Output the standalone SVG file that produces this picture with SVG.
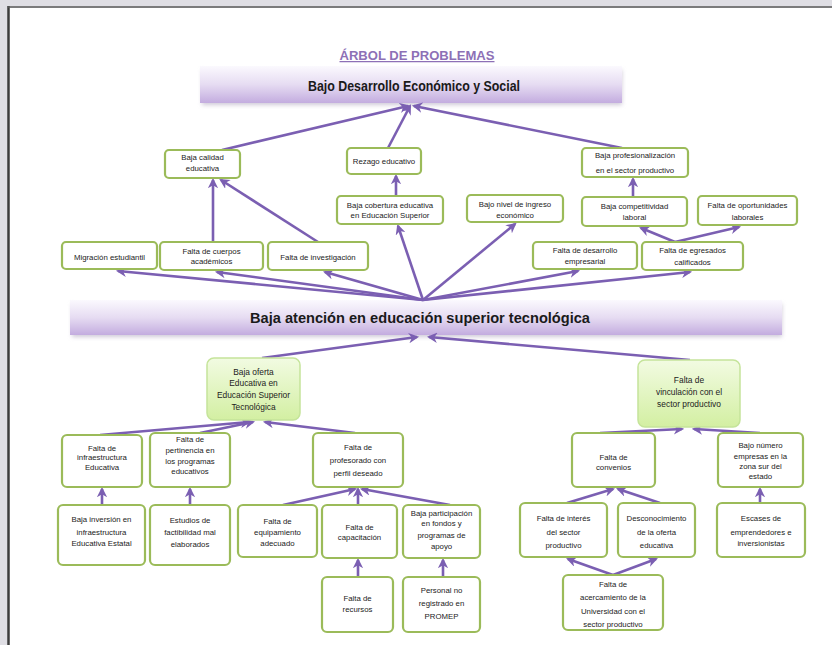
<svg xmlns="http://www.w3.org/2000/svg" width="832" height="645" viewBox="0 0 832 645">
<defs>
<linearGradient id="bar" x1="0" y1="0" x2="0" y2="1">
<stop offset="0" stop-color="#fbf9fe"/>
<stop offset="0.5" stop-color="#e6dcf2"/>
<stop offset="1" stop-color="#c3acdf"/>
</linearGradient>
<linearGradient id="gfill" x1="0" y1="0" x2="0" y2="1">
<stop offset="0" stop-color="#f2fbe2"/>
<stop offset="1" stop-color="#d3efa2"/>
</linearGradient>
<filter id="sh" x="-5%" y="-20%" width="110%" height="160%">
<feGaussianBlur stdDeviation="2"/>
</filter>
<marker id="ah" viewBox="0 0 10 10" refX="8" refY="5" markerWidth="4" markerHeight="4" orient="auto" markerUnits="strokeWidth">
<path d="M0,0 L10,5 L0,10 L3,5 z" fill="#7b5fb2"/>
</marker>
</defs>
<style>
.n rect{fill:#fff;stroke:#9bbb59;stroke-width:2.2}
.g rect{fill:url(#gfill);stroke:#c5e49a;stroke-width:1.5}
text{font-family:"Liberation Sans",Arial,sans-serif;fill:#222;text-anchor:middle}
.n text{font-size:7.8px}
.g text{font-size:8.4px}
#connectors line{stroke:#7b5fb2;stroke-width:2.6;marker-end:url(#ah)}
.big{font-weight:bold;font-size:15px;fill:#1a1a1a}
</style>
<rect width="832" height="645" fill="#dfdee4"/>
<rect x="9" y="8" width="823" height="637" fill="#ffffff"/>
<line x1="8.5" y1="6" x2="8.5" y2="645" stroke="#3c3c3c" stroke-width="2.5"/>
<line x1="8" y1="7" x2="832" y2="7" stroke="#5a5a5a" stroke-width="1.5"/>

<text x="417" y="60" style="font-size:12.5px;font-weight:bold;fill:#8d70b6;text-decoration:underline" textLength="155" lengthAdjust="spacingAndGlyphs">ÁRBOL DE PROBLEMAS</text>

<g id="bar_top">
<rect x="202" y="70" width="420" height="35" fill="#cfc9d8" filter="url(#sh)"/>
<rect x="200" y="66" width="422" height="37" fill="url(#bar)"/>
<text class="big" x="414" y="91" textLength="212" lengthAdjust="spacingAndGlyphs">Bajo Desarrollo Económico y Social</text>
</g>

<g id="bar_mid">
<rect x="72" y="304" width="710" height="33" fill="#cfc9d8" filter="url(#sh)"/>
<rect x="70" y="300" width="712" height="35" fill="url(#bar)"/>
<text class="big" x="420" y="323" textLength="340" lengthAdjust="spacingAndGlyphs">Baja atención en educación superior tecnológica</text>
</g>

<g id="connectors">
<line x1="222" y1="150" x2="408" y2="106"/>
<line x1="388" y1="148" x2="410" y2="106"/>
<line x1="622" y1="148" x2="414" y2="106"/>
<line x1="213" y1="242" x2="213" y2="180"/>
<line x1="318" y1="242" x2="221" y2="180"/>
<line x1="396" y1="196" x2="396" y2="176"/>
<line x1="633" y1="197" x2="633" y2="179"/>
<line x1="675" y1="242" x2="641" y2="228"/>
<line x1="675" y1="242" x2="739" y2="227"/>
<line x1="423" y1="300" x2="118" y2="271"/>
<line x1="423" y1="300" x2="217" y2="272"/>
<line x1="423" y1="300" x2="325" y2="272"/>
<line x1="423" y1="300" x2="398" y2="226"/>
<line x1="423" y1="300" x2="515" y2="224"/>
<line x1="423" y1="300" x2="578" y2="271"/>
<line x1="423" y1="300" x2="690" y2="272"/>
<line x1="262" y1="358" x2="417" y2="337"/>
<line x1="690" y1="360" x2="429" y2="337"/>
<line x1="100" y1="435" x2="249" y2="422"/>
<line x1="200" y1="433" x2="253" y2="422"/>
<line x1="355" y1="433" x2="265" y2="422"/>
<line x1="283" y1="505" x2="355" y2="489"/>
<line x1="358" y1="505" x2="358" y2="489"/>
<line x1="450" y1="505" x2="362" y2="489"/>
<line x1="102" y1="505" x2="102" y2="489"/>
<line x1="190" y1="505" x2="190" y2="489"/>
<line x1="358" y1="577" x2="358" y2="560"/>
<line x1="443" y1="577" x2="443" y2="560"/>
<line x1="600" y1="433" x2="682" y2="429"/>
<line x1="760" y1="433" x2="694" y2="429"/>
<line x1="567" y1="503" x2="613" y2="489"/>
<line x1="660" y1="503" x2="618" y2="489"/>
<line x1="760" y1="503" x2="760" y2="489"/>
<line x1="613" y1="575" x2="568" y2="559"/>
<line x1="613" y1="575" x2="656" y2="559"/>
</g>

<g id="n_calidad" class="n"><rect x="165" y="150" width="75" height="28" rx="4"/><text x="202.5" y="160">Baja calidad</text><text x="202.5" y="171">educativa</text></g>
<g id="n_rezago" class="n"><rect x="347" y="148" width="74" height="26" rx="4"/><text x="384" y="164">Rezago educativo</text></g>
<g id="n_profes" class="n"><rect x="582" y="148" width="106" height="29" rx="4"/><text x="635" y="158">Baja  profesionalización</text><text x="635" y="172.5">en el sector productivo</text></g>
<g id="n_cobertura" class="n"><rect x="337" y="196" width="106" height="28" rx="4"/><text x="390" y="207.5">Baja cobertura educativa</text><text x="390" y="217.5">en Educación Superior</text></g>
<g id="n_ingreso" class="n"><rect x="467" y="195" width="96" height="27" rx="4"/><text x="515" y="207">Bajo nivel de ingreso</text><text x="515" y="218">económico</text></g>
<g id="n_compet" class="n"><rect x="582" y="197" width="105" height="29" rx="4"/><text x="634.5" y="209">Baja competitividad</text><text x="634.5" y="220">laboral</text></g>
<g id="n_oportun" class="n"><rect x="698" y="196" width="99" height="29" rx="4"/><text x="747.5" y="208">Falta de oportunidades</text><text x="747.5" y="219.5">laborales</text></g>
<g id="n_migr" class="n"><rect x="62" y="242" width="95" height="27" rx="4"/><text x="109.5" y="260">Migración estudiantil</text></g>
<g id="n_cuerpos" class="n"><rect x="160" y="242" width="103" height="28" rx="4"/><text x="211.5" y="254">Falta de cuerpos</text><text x="211.5" y="264">académicos</text></g>
<g id="n_invest" class="n"><rect x="268" y="242" width="100" height="28" rx="4"/><text x="318" y="260">Falta de investigación</text></g>
<g id="n_desarr" class="n"><rect x="533" y="242" width="104" height="27" rx="4"/><text x="585" y="253">Falta de desarrollo</text><text x="585" y="263.5">empresarial</text></g>
<g id="n_egres" class="n"><rect x="642" y="242" width="101" height="28" rx="4"/><text x="692.5" y="253">Falta de egresados</text><text x="692.5" y="265">calificados</text></g>

<g id="n_oferta" class="g"><rect x="207" y="358" width="93" height="62" rx="7"/><text x="253.5" y="374.5">Baja oferta</text><text x="253.5" y="386">Educativa en</text><text x="253.5" y="398">Educación Superior</text><text x="253.5" y="409.5">Tecnológica</text></g>
<g id="n_vincul" class="g"><rect x="638" y="360" width="102" height="67" rx="7"/><text x="689" y="383">Falta de</text><text x="689" y="394.5">vinculación con el</text><text x="689" y="407">sector productivo</text></g>

<g id="n_infra" class="n"><rect x="62" y="435" width="80" height="52" rx="5"/><text x="102" y="450.5">Falta de</text><text x="102" y="460">infraestructura</text><text x="102" y="470">Educativa</text></g>
<g id="n_pertin" class="n"><rect x="150" y="433" width="80" height="54" rx="5"/><text x="190" y="442">Falta de</text><text x="190" y="452.5">pertinencia en</text><text x="190" y="463.5">los programas</text><text x="190" y="474">educativos</text></g>
<g id="n_profe" class="n"><rect x="313" y="433" width="90" height="54" rx="5"/><text x="358" y="450">Falta de</text><text x="358" y="463">profesorado con</text><text x="358" y="475.5">perfil deseado</text></g>
<g id="n_convenios" class="n"><rect x="572" y="433" width="83" height="54" rx="5"/><text x="613.5" y="459.5">Falta de</text><text x="613.5" y="469.5">convenios</text></g>
<g id="n_bajonum" class="n"><rect x="718" y="433" width="85" height="54" rx="5"/><text x="760.5" y="447.5">Bajo número</text><text x="760.5" y="458.5">empresas en la</text><text x="760.5" y="469">zona sur del</text><text x="760.5" y="478.5">estado</text></g>

<g id="n_inversion" class="n"><rect x="58" y="505" width="87" height="60" rx="5"/><text x="101.5" y="522">Baja inversión en</text><text x="101.5" y="534.5">infraestructura</text><text x="101.5" y="546">Educativa Estatal</text></g>
<g id="n_estudios" class="n"><rect x="150" y="505" width="80" height="60" rx="5"/><text x="190" y="522.5">Estudios de</text><text x="190" y="534.5">factibilidad mal</text><text x="190" y="547">elaborados</text></g>
<g id="n_equip" class="n"><rect x="238" y="505" width="79" height="52" rx="5"/><text x="277.5" y="523.5">Falta de</text><text x="277.5" y="534.5">equipamiento</text><text x="277.5" y="545.5">adecuado</text></g>
<g id="n_capac" class="n"><rect x="322" y="505" width="75" height="53" rx="5"/><text x="359.5" y="529.5">Falta de</text><text x="359.5" y="539.5">capacitación</text></g>
<g id="n_partic" class="n"><rect x="403" y="505" width="77" height="53" rx="5"/><text x="441.5" y="516">Baja participación</text><text x="441.5" y="526">en fondos y</text><text x="441.5" y="537.5">programas de</text><text x="441.5" y="549">apoyo</text></g>
<g id="n_recursos" class="n"><rect x="322" y="577" width="71" height="55" rx="5"/><text x="357.5" y="601">Falta de</text><text x="357.5" y="612">recursos</text></g>
<g id="n_promep" class="n"><rect x="403" y="577" width="77" height="55" rx="5"/><text x="441.5" y="592.5">Personal no</text><text x="441.5" y="606">registrado en</text><text x="441.5" y="618.5">PROMEP</text></g>
<g id="n_interes" class="n"><rect x="520" y="503" width="87" height="54" rx="5"/><text x="563.5" y="521">Falta de interés</text><text x="563.5" y="534.5">del sector</text><text x="563.5" y="547.5">productivo</text></g>
<g id="n_descon" class="n"><rect x="618" y="503" width="77" height="54" rx="5"/><text x="656.5" y="521">Desconocimiento</text><text x="656.5" y="534.5">de la oferta</text><text x="656.5" y="547.5">educativa</text></g>
<g id="n_escases" class="n"><rect x="717" y="503" width="88" height="54" rx="5"/><text x="761" y="521">Escases de</text><text x="761" y="534.5">emprendedores e</text><text x="761" y="546">inversionistas</text></g>
<g id="n_acerc" class="n"><rect x="563" y="575" width="100" height="55" rx="5"/><text x="613" y="586.5">Falta de</text><text x="613" y="600">acercamiento de la</text><text x="613" y="613.5">Universidad con el</text><text x="613" y="626.5">sector productivo</text></g>
</svg>
